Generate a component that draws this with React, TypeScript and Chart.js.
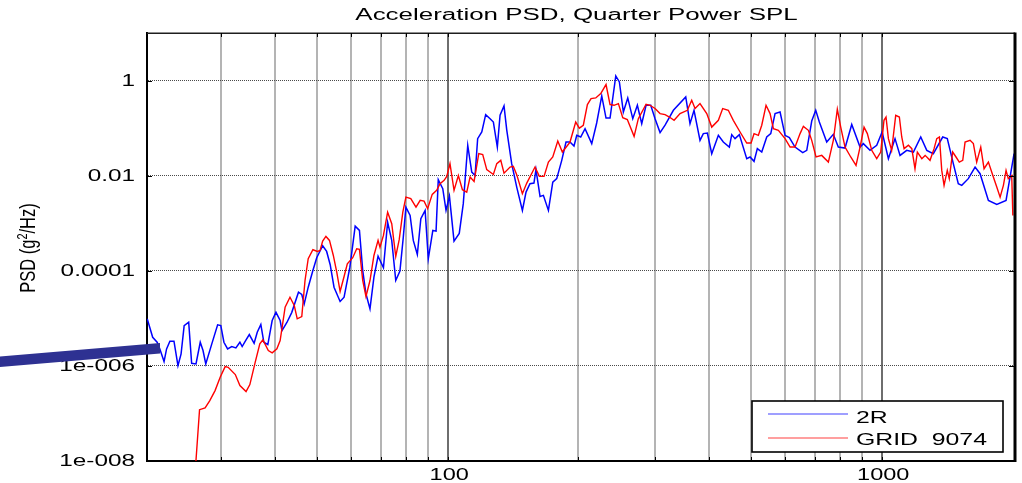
import React, { useEffect, useRef } from 'react';
import { Chart, registerables } from 'chart.js';

Chart.register(...registerables);

const TITLE = 'Acceleration PSD, Quarter Power SPL';
const Y_TITLE_PARTS = ['PSD (g', '2', '/Hz)'];
const SERIES_NAMES = ['2R', 'GRID  9074'];
const SERIES_COLORS = ['#0000ff', '#ff0000'];

const X_MIN = 20.28;
const X_MAX = 2028;
const Y_MIN = 1e-8;
const Y_MAX = 10;
const X_GRID_VALUES = [30, 40, 50, 60, 70, 80, 90, 100, 200, 300, 400, 500, 600, 700, 800, 900, 1000];
const X_MAJOR_VALUES = [100, 1000];
const X_LABELS = ['100', '1000'];
const Y_GRID_VALUES = [1e-8, 1e-6, 1e-4, 1e-2, 1, 10];
const Y_LABEL_VALUES = [1e-8, 1e-6, 1e-4, 1e-2, 1];
const Y_LABELS = ['1e-008', '1e-006', '0.0001', '0.01', '1'];

const freq2R = [
  20.3, 20.9, 21.4, 21.7, 22.2, 22.5, 22.9, 23.4, 23.9, 24.3,
  24.7, 25.3, 25.7, 26.3, 26.9, 27.3, 27.7, 28.6, 29.5, 30.0,
  30.5, 31.1, 31.8, 32.5, 33.2, 33.6, 34.3, 34.9, 35.8, 36.4,
  37.1, 37.7, 38.5, 39.4, 40.2, 41.1, 41.5, 42.6, 43.7, 45.3,
  46.1, 46.7, 47.7, 48.9, 49.9, 51.5, 52.6, 53.6, 54.7, 56.5,
  57.7, 59.5, 61.2, 62.6, 63.7, 64.8, 66.2, 67.6, 69.1, 71.1,
  72.7, 74.3, 75.9, 77.6, 79.0, 80.1, 81.9, 83.3, 85.1, 86.7,
  88.7, 90.2, 92.4, 94.0, 95.1, 97.4, 99.1, 100.9, 103.4, 106.3,
  108.6, 111.2, 113.6, 115.6, 117.2, 119.8, 122.3, 125.2, 127.4, 130.1,
  132.0, 134.8, 136.8, 140.4, 144.2, 148.6, 151.5, 154.7, 158.0, 159.7,
  163.2, 166.1, 170.6, 174.6, 178.3, 183.1, 187.3, 191.3, 195.4, 198.3,
  202.5, 207.2, 214.7, 220.4, 226.4, 231.6, 236.6, 243.9, 248.6, 253.9,
  259.9, 266.9, 273.5, 279.9, 286.4, 293.6, 300.4, 308.5, 316.8, 331.1,
  353.5, 361.6, 369.4, 381.3, 388.1, 396.5, 405.8, 420.3, 431.5, 445.5,
  451.2, 459.2, 469.8, 488.6, 497.3, 507.9, 516.9, 529.1, 543.3, 555.0,
  567.8, 583.1, 598.8, 612.6, 631.3, 657.7, 671.8, 689.8, 704.6, 718.2,
  746.9, 773.5, 794.3, 823.0, 852.9, 891.3, 907.1, 939.7, 973.8, 1002,
  1036, 1073, 1102, 1142, 1183, 1230, 1270, 1315, 1382, 1416,
  1462, 1501, 1529, 1583, 1641, 1685, 1761, 1841, 1934, 2018,
];

const psd2R = [
  9.76e-6, 4.0e-6, 3.14e-6, 2.28e-6, 1.23e-6, 2.28e-6, 3.30e-6, 3.30e-6, 1.01e-6, 1.79e-6,
  7.05e-6, 8.28e-6, 1.13e-6, 1.10e-6, 3.14e-6, 2.10e-6, 1.10e-6, 2.90e-6, 7.30e-6, 7.05e-6,
  3.14e-6, 2.28e-6, 2.55e-6, 2.39e-6, 3.14e-6, 2.55e-6, 3.52e-6, 4.56e-6, 2.99e-6, 5.09e-6,
  7.40e-6, 3.14e-6, 2.81e-6, 8.99e-6, 1.34e-5, 8.99e-6, 5.53e-6, 8.17e-6, 1.32e-5, 3.54e-5,
  3.17e-5, 2.02e-5, 4.52e-5, 1.01e-4, 1.88e-4, 3.36e-4, 2.55e-4, 1.34e-4, 4.52e-5, 2.26e-5,
  2.78e-5, 1.19e-4, 8.69e-4, 7.05e-4, 1.01e-4, 3.28e-5, 1.58e-5, 7.33e-5, 2.03e-4, 1.16e-4,
  1.05e-3, 4.35e-4, 6.25e-5, 9.82e-5, 5.09e-4, 2.18e-3, 1.46e-3, 4.35e-4, 2.20e-4, 1.24e-3,
  1.86e-3, 1.79e-4, 7.05e-4, 6.82e-4, 8.24e-3, 5.32e-3, 1.86e-3, 3.72e-3, 4.20e-4, 6.10e-4,
  2.58e-3, 4.35e-2, 1.19e-2, 1.01e-2, 6.01e-2, 8.28e-2, 0.192, 0.158, 0.134, 0.040,
  0.186, 0.292, 0.0899, 0.0179, 5.75e-3, 1.86e-3, 4.52e-3, 6.79e-3, 6.98e-3, 1.34e-2,
  3.66e-3, 3.85e-3, 1.86e-3, 7.33e-3, 8.65e-3, 0.0210, 0.0509, 0.0509, 0.0420, 0.0705,
  0.0650, 0.0976, 0.0472, 0.128, 0.474, 0.163, 0.163, 1.25, 0.935, 0.218,
  0.431, 0.158, 0.302, 0.124, 0.302, 0.302, 0.158, 0.0804, 0.115, 0.237,
  0.452, 0.124, 0.237, 0.0553, 0.0766, 0.0789, 0.0290, 0.0705, 0.0509, 0.040,
  0.0730, 0.0601, 0.0730, 0.0228, 0.0247, 0.0200, 0.0370, 0.0314, 0.0650, 0.0766,
  0.202, 0.218, 0.0705, 0.0631, 0.040, 0.0305, 0.0341, 0.141, 0.237, 0.134,
  0.0509, 0.0740, 0.040, 0.0381, 0.119, 0.040, 0.0472, 0.0341, 0.0435, 0.0828,
  0.0228, 0.0601, 0.0267, 0.0341, 0.0314, 0.0650, 0.0341, 0.0290, 0.0650, 0.0601,
  0.0179, 6.79e-3, 6.25e-3, 8.65e-3, 0.0152, 0.0110, 3.02e-3, 2.49e-3, 3.02e-3, 0.0290,
];

const freqGrid = [
  26.1, 26.8, 27.6, 28.3, 29.1, 29.9, 30.7, 31.2, 32.4, 33.2,
  34.3, 35.0, 36.0, 36.9, 37.5, 38.6, 39.4, 40.4, 41.1, 42.2,
  43.3, 44.3, 45.0, 46.1, 46.9, 47.7, 48.9, 50.1, 50.8, 51.5,
  52.4, 53.4, 54.5, 55.5, 56.5, 57.7, 58.7, 60.4, 61.7, 62.6,
  63.7, 64.8, 66.2, 67.6, 69.1, 69.8, 71.1, 72.7, 74.3, 75.9,
  77.3, 78.8, 80.1, 82.2, 84.5, 86.4, 88.2, 89.9, 92.1, 94.3,
  96.0, 98.1, 99.5, 101.2, 103.4, 105.8, 108.1, 110.6, 112.6, 115.0,
  117.9, 120.4, 123.0, 127.4, 129.7, 132.5, 134.8, 139.2, 141.6, 144.2,
  148.6, 152.1, 158.9, 162.6, 166.7, 170.6, 174.6, 179.3, 183.7, 191.3,
  197.2, 201.0, 205.3, 209.8, 213.9, 219.3, 225.2, 231.6, 236.6, 241.7,
  247.3, 253.1, 259.3, 268.8, 274.9, 286.4, 292.5, 300.4, 308.5, 316.8,
  324.1, 332.3, 343.0, 356.5, 364.9, 371.4, 381.3, 395.2, 405.8, 420.3,
  430.1, 443.1, 455.0, 471.6, 488.6, 500.0, 507.9, 519.7, 529.1, 541.3,
  553.0, 562.8, 577.9, 598.8, 614.9, 631.3, 648.4, 659.9, 677.6, 689.8,
  705.7, 727.4, 753.4, 773.5, 790.1, 804.5, 823.0, 848.4, 872.5, 891.3,
  910.4, 926.5, 948.4, 973.8, 994.7, 1012, 1023, 1036, 1054, 1077,
  1098, 1112, 1126, 1152, 1173, 1193, 1208, 1237, 1259, 1292,
  1320, 1339, 1358, 1375, 1392, 1416, 1431, 1457, 1483, 1509,
  1537, 1556, 1598, 1626, 1655, 1691, 1721, 1761, 1808, 1841,
  1874, 1907, 1934, 1957, 1993, 2005,
];

const psdGrid = [
  3.85e-9, 1.20e-7, 1.31e-7, 1.86e-7, 3.02e-7, 5.75e-7, 9.66e-7, 9.35e-7, 6.56e-7, 3.85e-7,
  2.88e-7, 4.04e-7, 1.19e-6, 2.90e-6, 3.52e-6, 2.10e-6, 1.88e-6, 2.28e-6, 3.41e-6, 1.71e-5,
  2.78e-5, 1.86e-5, 9.76e-6, 1.09e-5, 6.25e-5, 1.79e-4, 2.77e-4, 2.55e-4, 2.67e-4, 4.20e-4,
  5.27e-4, 4.35e-4, 2.10e-4, 9.35e-5, 3.66e-5, 7.59e-5, 1.40e-4, 1.88e-4, 2.90e-4, 2.81e-4,
  6.25e-5, 2.88e-5, 6.25e-5, 2.10e-4, 4.35e-4, 3.14e-4, 5.53e-4, 1.71e-3, 9.76e-4, 2.0e-4,
  4.50e-4, 1.71e-3, 3.54e-3, 3.28e-3, 2.18e-3, 3.02e-3, 2.92e-3, 2.02e-3, 4.04e-3, 4.91e-3,
  6.79e-3, 7.96e-3, 9.66e-3, 0.0179, 4.91e-3, 0.0101, 5.07e-3, 4.52e-3, 9.35e-3, 7.59e-3,
  0.0290, 0.0277, 0.0134, 0.0106, 0.0179, 0.0210, 0.0113, 0.0152, 0.0157, 0.0105,
  4.18e-3, 6.98e-3, 0.0152, 9.66e-3, 9.66e-3, 0.0193, 0.0247, 0.0535, 0.0314, 0.0509,
  0.134, 0.100, 0.115, 0.313, 0.418, 0.431, 0.532, 0.824, 0.313, 0.302,
  0.328, 0.166, 0.151, 0.0671, 0.158, 0.317, 0.302, 0.258, 0.202, 0.192,
  0.171, 0.146, 0.202, 0.237, 0.385, 0.258, 0.328, 0.202, 0.105, 0.146,
  0.258, 0.237, 0.146, 0.0828, 0.0485, 0.0485, 0.0766, 0.0705, 0.115, 0.302,
  0.202, 0.0976, 0.0899, 0.0601, 0.040, 0.040, 0.0766, 0.109, 0.0899, 0.0553,
  0.0247, 0.0267, 0.0193, 0.0553, 0.249, 0.105, 0.040, 0.0247, 0.0165, 0.040,
  0.105, 0.0766, 0.0341, 0.0228, 0.0314, 0.146, 0.171, 0.0601, 0.0341, 0.186,
  0.171, 0.0650, 0.0370, 0.0435, 0.0370, 0.0140, 0.0314, 0.0228, 0.0267, 0.0210,
  0.0370, 0.0601, 0.0650, 0.0129, 6.25e-3, 0.0129, 8.65e-3, 0.0314, 0.0247, 0.0193,
  0.0210, 0.0509, 0.0553, 0.0472, 0.0193, 0.040, 0.0140, 0.0193, 9.35e-3, 5.75e-3,
  3.54e-3, 6.25e-3, 0.0129, 8.65e-3, 0.0101, 1.46e-3,
];

const FONT = '"Liberation Sans", Arial, Helvetica, sans-serif';

function stretchText(ctx: CanvasRenderingContext2D, text: string, x: number, y: number, sx: number, align: CanvasTextAlign) {
  ctx.save();
  ctx.translate(x, y);
  ctx.scale(sx, 1);
  ctx.textAlign = align;
  ctx.fillText(text, 0, 0);
  ctx.restore();
}

const overlayPlugin = {
  id: 'matlabOverlay',
  afterDraw(chart: any) {
    const ctx: CanvasRenderingContext2D = chart.ctx;
    const { left, right, top, bottom } = chart.chartArea;
    const xs = chart.scales.x;
    const ys = chart.scales.y;
    ctx.save();

    // top and right frame
    ctx.strokeStyle = '#1e1e1e';
    ctx.lineWidth = 1.5;
    ctx.beginPath();
    ctx.moveTo(left, top + 0.25);
    ctx.lineTo(right, top + 0.25);
    ctx.stroke();
    ctx.strokeStyle = '#000';
    ctx.lineWidth = 3;
    ctx.beginPath();
    ctx.moveTo(right, top - 0.5);
    ctx.lineTo(right, bottom + 1);
    ctx.stroke();

    // inner tick marks
    ctx.lineWidth = 1;
    ctx.strokeStyle = '#000';
    ctx.beginPath();
    X_GRID_VALUES.forEach((v) => {
      const px = Math.round(xs.getPixelForValue(v)) + 0.5;
      if (px <= left + 2 || px >= right - 2) return;
      ctx.moveTo(px, bottom);
      ctx.lineTo(px, bottom - 4);
      ctx.moveTo(px, top);
      ctx.lineTo(px, top + 4);
    });
    Y_LABEL_VALUES.forEach((v) => {
      const py = Math.round(ys.getPixelForValue(v)) + 0.5;
      if (py <= top + 2 || py >= bottom - 2) return;
      ctx.moveTo(left, py);
      ctx.lineTo(left + 5, py);
      ctx.moveTo(right, py);
      ctx.lineTo(right - 6, py);
    });
    ctx.stroke();

    ctx.fillStyle = '#000';
    ctx.font = `16px ${FONT}`;

    // title
    ctx.textBaseline = 'alphabetic';
    stretchText(ctx, TITLE, (left + right) / 2 - 4.5, 20, 1.62, 'center');

    // y tick labels
    ctx.textBaseline = 'middle';
    Y_LABEL_VALUES.forEach((v, i) => {
      stretchText(ctx, Y_LABELS[i], 135, ys.getPixelForValue(v) + 1, 1.52, 'right');
    });

    // x tick labels
    ctx.textBaseline = 'alphabetic';
    X_MAJOR_VALUES.forEach((v, i) => {
      stretchText(ctx, X_LABELS[i], xs.getPixelForValue(v) + 1.5, bottom + 19, 1.47, 'center');
    });

    // y axis title (rotated, with superscript)
    ctx.save();
    ctx.translate(35, (top + bottom) / 2 + 1);
    ctx.rotate(-Math.PI / 2);
    ctx.scale(1, 1.3);
    ctx.textAlign = 'left';
    ctx.textBaseline = 'alphabetic';
    const bigFont = `16.5px ${FONT}`;
    const smallFont = `11px ${FONT}`;
    ctx.font = bigFont;
    const w1 = ctx.measureText(Y_TITLE_PARTS[0]).width;
    const w3 = ctx.measureText(Y_TITLE_PARTS[2]).width;
    ctx.font = smallFont;
    const w2 = ctx.measureText(Y_TITLE_PARTS[1]).width;
    let cx = -(w1 + w2 + w3) / 2;
    ctx.font = bigFont;
    ctx.fillText(Y_TITLE_PARTS[0], cx, 0);
    cx += w1;
    ctx.font = smallFont;
    ctx.fillText(Y_TITLE_PARTS[1], cx, -6);
    cx += w2;
    ctx.font = bigFont;
    ctx.fillText(Y_TITLE_PARTS[2], cx, 0);
    ctx.restore();

    // legend box
    const lx = 752, ly = 401, lw = 251, lh = 51;
    ctx.fillStyle = '#fff';
    ctx.fillRect(lx, ly, lw, lh);
    ctx.strokeStyle = '#000';
    ctx.lineWidth = 1.6;
    ctx.strokeRect(lx, ly, lw, lh);
    const rows = [414, 438];
    const textRows = [423, 445];
    chart.data.datasets.forEach((ds: any, i: number) => {
      ctx.strokeStyle = i === 0 ? '#7f7fff' : '#ff7f7f';
      ctx.lineWidth = 1.5;
      ctx.beginPath();
      ctx.moveTo(768, rows[i]);
      ctx.lineTo(848, rows[i]);
      ctx.stroke();
      ctx.fillStyle = '#000';
      ctx.font = `16px ${FONT}`;
      ctx.textBaseline = 'alphabetic';
      stretchText(ctx, ds.label, 856, textRows[i], 1.55, 'left');
    });

    // dark annotation stroke at the left
    ctx.fillStyle = '#2e3192';
    ctx.beginPath();
    ctx.moveTo(0, 356.5);
    ctx.lineTo(160, 343);
    ctx.lineTo(160, 353.5);
    ctx.lineTo(0, 367);
    ctx.closePath();
    ctx.fill();

    ctx.restore();
  },
};

export default function App() {
  const ref = useRef<HTMLCanvasElement | null>(null);

  useEffect(() => {
    if (!ref.current) return;
    const chart = new Chart(ref.current, {
      type: 'line',
      data: {
        datasets: [
          {
            label: SERIES_NAMES[0],
            data: freq2R.map((f, i) => ({ x: f, y: psd2R[i] })),
            borderColor: SERIES_COLORS[0],
            borderWidth: 1.5,
            pointRadius: 0,
            tension: 0,
            order: 1,
          },
          {
            label: SERIES_NAMES[1],
            data: freqGrid.map((f, i) => ({ x: f, y: psdGrid[i] })),
            borderColor: SERIES_COLORS[1],
            borderWidth: 1.4,
            pointRadius: 0,
            tension: 0,
            order: 0,
          },
        ],
      },
      options: {
        animation: false,
        responsive: false,
        maintainAspectRatio: false,
        layout: { padding: { left: 0, right: 7, top: 33, bottom: 0 } },
        plugins: {
          legend: { display: false },
          title: { display: false },
          tooltip: { enabled: false },
        },
        scales: {
          x: {
            type: 'logarithmic',
            min: X_MIN,
            max: X_MAX,
            afterBuildTicks: (s: any) => {
              s.ticks = X_GRID_VALUES.map((v) => ({ value: v }));
            },
            afterFit: (s: any) => {
              s.height = 22;
            },
            ticks: { display: false },
            grid: {
              drawTicks: false,
              lineWidth: 2,
              color: (c: any) => {
                const v = c.tick ? c.tick.value : null;
                return X_MAJOR_VALUES.includes(v) ? '#6e6e6e' : '#b4b4b4';
              },
            },
            border: { display: true, color: '#000', width: 2 },
          },
          y: {
            type: 'logarithmic',
            min: Y_MIN,
            max: Y_MAX,
            afterBuildTicks: (s: any) => {
              s.ticks = Y_GRID_VALUES.map((v) => ({ value: v }));
            },
            afterFit: (s: any) => {
              s.width = 147;
            },
            ticks: { display: false },
            grid: {
              drawTicks: false,
              lineWidth: 1,
              color: (c: any) => {
                const v = c.tick ? c.tick.value : null;
                if (v === Y_MIN || v === Y_MAX) return 'rgba(0,0,0,0)';
                return '#4a4a4a';
              },
            },
            border: { display: true, color: '#000', width: 2, dash: [1, 1] },
          },
        },
      },
      plugins: [overlayPlugin],
    } as any);
    return () => chart.destroy();
  }, []);

  return (
    <div style={{ position: 'absolute', left: 0, top: 0, width: 1022, height: 483, background: '#fff' }}>
      <canvas ref={ref} width={1022} height={483} style={{ display: 'block', width: 1022, height: 483 }} />
    </div>
  );
}
